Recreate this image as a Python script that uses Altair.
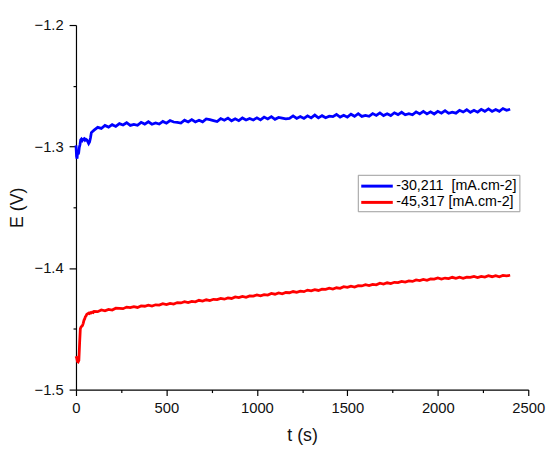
import altair as alt
import pandas as pd

# ---------------- data ----------------
LABEL_BLUE = "-30,211\u00a0 [mA.cm-2]"
LABEL_RED = "-45,317 [mA.cm-2]"

t_blue_start = [0, 3, 6, 9, 12, 15, 18, 22, 26, 30, 35, 40, 45, 50, 55, 60, 65, 70, 75, 80, 85, 90]
e_blue_start = [-1.2990, -1.3080, -1.3100, -1.3040, -1.3065, -1.3050, -1.3010, -1.2985, -1.2945,
                -1.2938, -1.2950, -1.2940, -1.2935, -1.2948, -1.2940, -1.2945, -1.2960, -1.2975,
                -1.2962, -1.2930, -1.2885, -1.2878]

t_body = list(range(100, 2401, 20))
e_blue_body = [
    -1.2865, -1.2842, -1.2851, -1.2826, -1.2840, -1.2820, -1.2834, -1.2811, -1.2822, -1.2804,
    -1.2826, -1.2817, -1.2825, -1.2801, -1.2815, -1.2796, -1.2816, -1.2806, -1.2815, -1.2793,
    -1.2808, -1.2786, -1.2798, -1.2801, -1.2807, -1.2783, -1.2798, -1.2778, -1.2798, -1.2784,
    -1.2797, -1.2773, -1.2778, -1.2786, -1.2794, -1.2770, -1.2784, -1.2766, -1.2788, -1.2772,
    -1.2787, -1.2765, -1.2781, -1.2769, -1.2781, -1.2764, -1.2781, -1.2758, -1.2773, -1.2754,
    -1.2776, -1.2761, -1.2766, -1.2772, -1.2768, -1.2748, -1.2769, -1.2753, -1.2769, -1.2747,
    -1.2764, -1.2741, -1.2764, -1.2746, -1.2763, -1.2750, -1.2754, -1.2736, -1.2757, -1.2742,
    -1.2758, -1.2734, -1.2751, -1.2730, -1.2752, -1.2744, -1.2751, -1.2729, -1.2744, -1.2723,
    -1.2745, -1.2730, -1.2745, -1.2722, -1.2737, -1.2718, -1.2739, -1.2730, -1.2739, -1.2715,
    -1.2732, -1.2711, -1.2732, -1.2715, -1.2732, -1.2710, -1.2725, -1.2704, -1.2726, -1.2718,
    -1.2725, -1.2702, -1.2716, -1.2697, -1.2718, -1.2702, -1.2717, -1.2694, -1.2710, -1.2690,
    -1.2711, -1.2695, -1.2710, -1.2687, -1.2702, -1.2693]

t_red_start = [0, 4, 8, 12, 16, 20, 24, 28, 32, 36, 40, 44, 48, 52, 56, 60, 65, 70, 75, 80, 85, 90, 95]
e_red_start = [-1.4725, -1.4740, -1.4768, -1.4772, -1.4760, -1.4620, -1.4500, -1.4485, -1.4478,
               -1.4472, -1.4455, -1.4430, -1.4418, -1.4400, -1.4392, -1.4380, -1.4376, -1.4370,
               -1.4374, -1.4366, -1.4369, -1.4362, -1.4366]
e_red_body = [
    -1.4356, -1.4359, -1.4345, -1.4352, -1.4340, -1.4345, -1.4330, -1.4332, -1.4334, -1.4321,
    -1.4326, -1.4318, -1.4324, -1.4312, -1.4314, -1.4305, -1.4312, -1.4302, -1.4305, -1.4293,
    -1.4300, -1.4290, -1.4296, -1.4284, -1.4287, -1.4277, -1.4284, -1.4275, -1.4278, -1.4265,
    -1.4271, -1.4261, -1.4268, -1.4257, -1.4259, -1.4249, -1.4256, -1.4246, -1.4250, -1.4237,
    -1.4243, -1.4233, -1.4241, -1.4229, -1.4231, -1.4221, -1.4228, -1.4218, -1.4222, -1.4209,
    -1.4215, -1.4205, -1.4212, -1.4201, -1.4203, -1.4193, -1.4200, -1.4190, -1.4194, -1.4181,
    -1.4187, -1.4177, -1.4184, -1.4173, -1.4175, -1.4165, -1.4172, -1.4162, -1.4166, -1.4153,
    -1.4159, -1.4149, -1.4156, -1.4145, -1.4147, -1.4137, -1.4144, -1.4134, -1.4138, -1.4125,
    -1.4131, -1.4121, -1.4128, -1.4117, -1.4119, -1.4109, -1.4116, -1.4106, -1.4110, -1.4097,
    -1.4103, -1.4093, -1.4100, -1.4089, -1.4091, -1.4082, -1.4091, -1.4082, -1.4087, -1.4076,
    -1.4084, -1.4075, -1.4084, -1.4074, -1.4077, -1.4069, -1.4078, -1.4069, -1.4074, -1.4063,
    -1.4071, -1.4062, -1.4071, -1.4061, -1.4064, -1.4059]

x_ticks = [0, 250, 500, 750, 1000, 1250, 1500, 1750, 2000, 2250, 2500]
y_ticks = [-1.5, -1.45, -1.4, -1.35, -1.3, -1.25, -1.2]

# ---------------- table ----------------
rows = []
for t, e in zip(t_blue_start + t_body, e_blue_start + e_blue_body):
    rows.append({"t": t, "E": e, "series": LABEL_BLUE, "order": 0})
for t, e in zip(t_red_start + t_body, e_red_start + e_red_body):
    rows.append({"t": t, "E": e, "series": LABEL_RED, "order": 1})
df = pd.DataFrame(rows)

FONT = "Liberation Sans"

x_axis = alt.Axis(
    title="t (s)", values=x_ticks, grid=False,
    labelExpr="datum.value % 500 == 0 ? format(datum.value, 'd') : ''",
    tickSize={"condition": {"test": "datum.value % 500 == 0", "value": 6}, "value": 3},
    labelFlush=False, labelOverlap=False, labelPadding=5,
    titlePadding=12,
)
y_axis = alt.Axis(
    title="E (V)", values=y_ticks, grid=False,
    labelExpr="abs(round(datum.value * 100)) % 10 == 0 ? format(datum.value, '.1f') : ''",
    tickSize={"condition": {"test": "abs(round(datum.value * 100)) % 10 == 0", "value": 7}, "value": 3},
    labelFlush=False, labelOverlap=False, labelPadding=6,
    titlePadding=8,
)

legend = alt.Legend(
    title=None, orient="none", legendX=286, legendY=152,
    symbolType="M-1,0H3", symbolSize=256, symbolStrokeWidth=3,
    labelFont=FONT, labelFontSize=14.5, labelColor="#000000", labelOffset=18,
    strokeColor="#9a9a9a", padding=2, rowPadding=0.5, fillColor="#ffffff",
)

chart = alt.Chart(df).mark_line(strokeWidth=2.8).encode(
    x=alt.X("t:Q", scale=alt.Scale(domain=[0, 2500], nice=False, zero=False), axis=x_axis),
    y=alt.Y("E:Q", scale=alt.Scale(domain=[-1.5, -1.2], nice=False, zero=False), axis=y_axis),
    color=alt.Color(
        "series:N",
        scale=alt.Scale(domain=[LABEL_BLUE, LABEL_RED], range=["#0000ff", "#ff0000"]),
        legend=legend,
    ),
    order="order:Q",
    detail="series:N",
).properties(
    width=459,
    height=370,
    autosize=alt.AutoSizeParams(type="none"),
    padding={"left": 69, "top": 14, "right": 18, "bottom": 57},
).configure_view(
    stroke=None
).configure_axis(
    domainColor="#000000", domainWidth=1.2, tickColor="#000000", tickWidth=1.2,
    labelFont=FONT, labelFontSize=15, labelColor="#111111",
    titleFont=FONT, titleFontSize=18, titleFontWeight="normal", titleColor="#111111",
)

chart.save("out.html", embed_options={"renderer": "svg", "actions": False})
